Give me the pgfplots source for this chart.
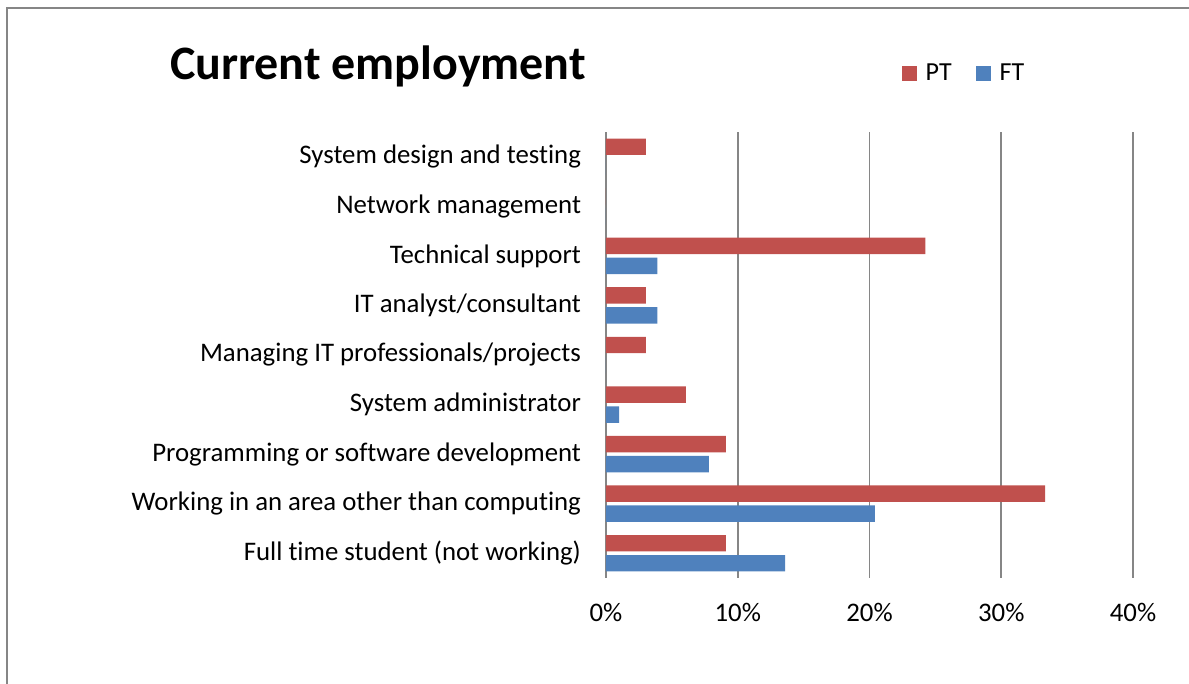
\documentclass[border=0pt]{standalone}
\usepackage{pgfplots}
\pgfplotsset{compat=1.18}
\usepackage{fontspec}
\setmainfont{Carlito}[Ligatures=NoCommon]
\definecolor{ptred}{HTML}{C0504D}
\definecolor{ftblue}{HTML}{4F81BD}
\definecolor{gridgray}{HTML}{868686}

\begin{document}
\begin{tikzpicture}
\useasboundingbox (-303pt,-53pt) rectangle (291.5pt,289pt);
% outer chart frame (cut off on the right and bottom)
\draw[gridgray, line width=0.8pt] (-299.5pt,-53pt) -- (-299.5pt,285pt) -- (291.5pt,285pt);
\node[anchor=base west, font=\fontsize{24}{28}\selectfont\bfseries] at (-221.5pt,249pt) {Current employment};
\begin{axis}[
  at={(0,0)}, anchor=south west,
  scale only axis, width=263.5pt, height=223pt,
  xbar, bar width=8.2pt,
  xmin=0, xmax=40, ymin=-0.5, ymax=8.5,
  xtick={0,10,20,30,40},
  xticklabel={\pgfmathprintnumber{\tick}\%},
  ytick={0,...,8},
  yticklabels={Full time student (not working),
    Working in an area other than computing,
    Programming or software development,
    System administrator,
    Managing IT professionals/projects,
    IT analyst/consultant,
    Technical support,
    Network management,
    System design and testing},
  axis line style={draw=none},
  major tick length=0pt,
  xmajorgrids, grid style={gridgray, line width=0.8pt},
  tick label style={font=\fontsize{13.4}{15}\selectfont},
  xticklabel style={yshift=-9pt},
  yticklabel style={xshift=-9pt},
  /pgf/number format/assume math mode=true,
  legend style={draw=none, fill=none, at={(0.549,1.1306)}, anchor=west,
    legend columns=2, font=\fontsize{13}{15}\selectfont,
    /tikz/every odd column/.append style={column sep=2.5pt},
    /tikz/every even column/.append style={column sep=10pt}},
  legend image code/.code={\fill[#1] (0pt,-3.75pt) rectangle (7.5pt,3.75pt);},
]
\addplot[fill=ptred, draw=none, bar shift=5pt] coordinates {
  (9.09,0) (33.33,1) (9.09,2) (6.06,3) (3.03,4) (3.03,5) (24.24,6) (0,7) (3.03,8)
};
\addlegendentry{PT}
\addplot[fill=ftblue, draw=none, bar shift=-5pt] coordinates {
  (13.6,0) (20.4,1) (7.8,2) (1.0,3) (0,4) (3.9,5) (3.9,6) (0,7) (0,8)
};
\addlegendentry{FT}
\end{axis}
\end{tikzpicture}
\end{document}
